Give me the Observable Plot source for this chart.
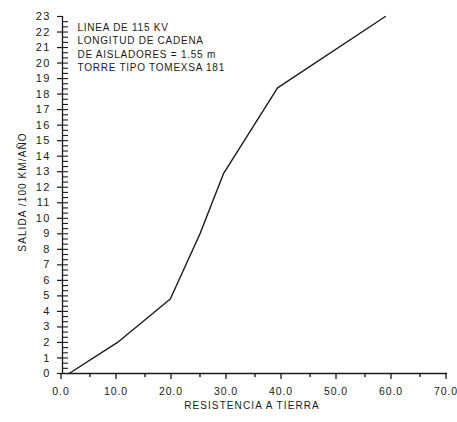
<!DOCTYPE html>
<html>
<head>
<meta charset="utf-8">
<script src="https://cdn.jsdelivr.net/npm/d3@7"></script>
<script src="https://cdn.jsdelivr.net/npm/@observablehq/plot@0.6"></script>
<style>
  html, body { margin: 0; padding: 0; background: #fff; }
  #chart svg { display: block; }
  #chart g[aria-label="y-axis tick label"] { letter-spacing: 1.2px; }
  #chart g[aria-label="x-axis tick label"] { letter-spacing: 0.9px; }
</style>
</head>
<body>
<div id="chart"></div>
<script>
// Ground resistance (ohm) vs. outage rate (per 100 km per year)
const resistencia = [1.2, 10, 19.6, 25, 29.3, 39.1, 58.7];
const salida      = [0, 2.0, 4.8, 9.0, 12.9, 18.4, 23.0];

const xMajor = [0, 10, 20, 30, 40, 50, 60, 70];
const xMinor = [5, 15, 25, 35, 45, 55, 65];
const yMajor = d3.range(0, 24);
const yMinor = d3.range(1, 69).map(i => i / 3);

const notas = [
  "LINEA DE 115 KV",
  "LONGITUD DE CADENA",
  "DE AISLADORES = 1.55 m",
  "TORRE TIPO TOMEXSA 181"
];
const tituloX = "RESISTENCIA A TIERRA";
const tituloY = "SALIDA /100 KM/AÑO";

const data = resistencia.map((x, i) => ({x, y: salida[i]}));
const ink = "#1a1a1a";

const chart = Plot.plot({
  width: 457,
  height: 422,
  marginLeft: 62,
  marginRight: 10,
  marginTop: 16,
  marginBottom: 49,
  style: {fontFamily: "Liberation Sans, Arial, sans-serif", fontSize: "11px", color: ink, background: "#fff"},
  x: {type: "linear", domain: [0, 70]},
  y: {type: "linear", domain: [0, 23]},
  marks: [
    // axis lines
    Plot.ruleY([0], {stroke: ink, strokeWidth: 1.3}),
    Plot.ruleX([0], {stroke: ink, strokeWidth: 1.3}),
    // x axis: labelled major ticks, short minor ticks below the line
    Plot.axisX(xMajor, {anchor: "bottom", tickSize: 6, tickPadding: 8, dx: -1.5, tickFormat: d => d.toFixed(1), stroke: ink, strokeWidth: 1.3, label: null, fontSize: 10.5}),
    Plot.axisX(xMinor, {anchor: "bottom", tickSize: 4, fill: "none", text: null, stroke: ink, strokeWidth: 1.4, label: null}),
    // y axis: labelled integer ticks to the left, fine ticks to the right of the line
    Plot.axisY(yMajor, {anchor: "left", tickSize: 5, tickPadding: 7, tickFormat: d => String(d), stroke: ink, strokeWidth: 1.2, label: null, fontSize: 11}),
    Plot.axisY(yMinor, {anchor: "right", frameAnchor: "left", tickSize: 5, fill: "none", text: null, stroke: ink, strokeWidth: 1.1, label: null}),
    // outage curve
    Plot.line(data, {x: "x", y: "y", stroke: ink, strokeWidth: 1.4}),
    // notes block
    Plot.text([notas.join("\n")], {
      frameAnchor: "top-left", dx: 15, dy: 5,
      textAnchor: "start", lineAnchor: "top", lineHeight: 1.33,
      fontSize: 10, fill: ink
    }),
    // axis titles
    Plot.text([tituloX], {frameAnchor: "bottom", textAnchor: "middle", lineAnchor: "middle", dx: -3, dy: 32, fontSize: 10, fill: ink}),
    Plot.text([tituloY], {frameAnchor: "left", textAnchor: "middle", lineAnchor: "middle", dx: -40, dy: -3, rotate: -90, fontSize: 10, fill: ink})
  ]
});

// wider tracking for the stroke-style lettering
const svg = d3.select(chart);
svg.selectAll("text").each(function () {
  const t = this.textContent;
  if (t === tituloX || t === tituloY) d3.select(this).style("letter-spacing", "1.1px");
});
svg.selectAll("tspan").each(function () {
  if (notas.includes(this.textContent)) d3.select(this).style("letter-spacing", "0.75px");
});

document.getElementById("chart").append(chart);
</script>
</body>
</html>
